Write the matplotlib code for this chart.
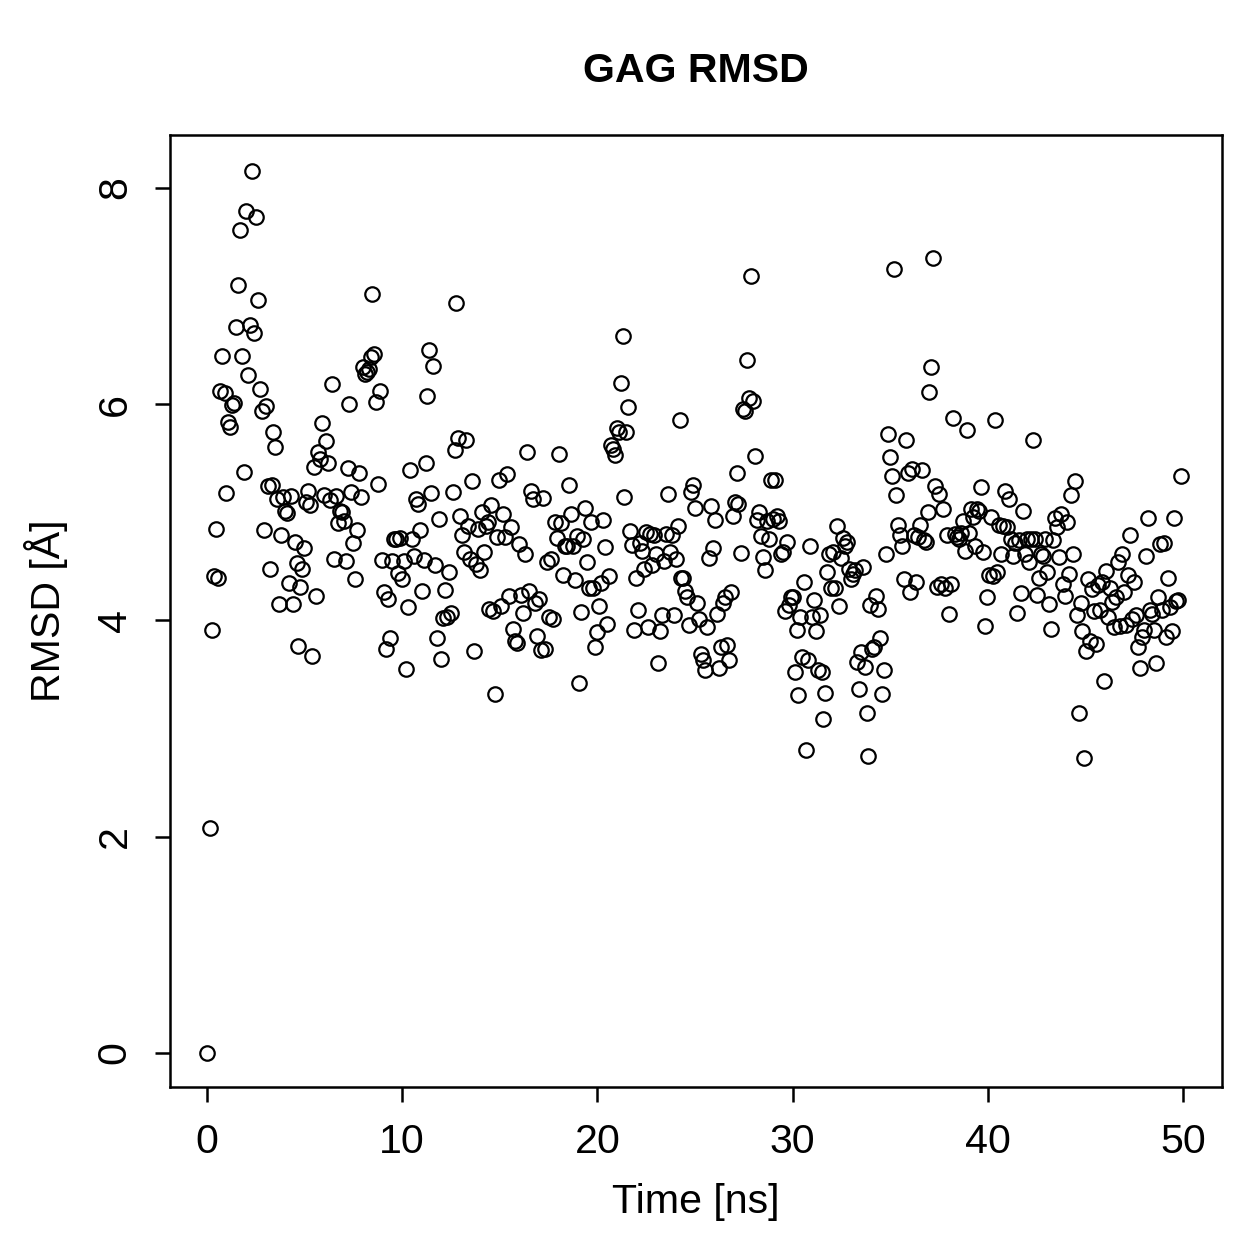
import matplotlib
matplotlib.use("Agg")
import matplotlib.pyplot as plt

# values (time in ns, RMSD in Angstrom)
time_ns = [
    0.0, 0.15, 0.25, 0.35, 0.45, 0.55, 0.65, 0.75, 0.9, 0.97,
    1.07, 1.17, 1.28, 1.38, 1.48, 1.59, 1.69, 1.79, 1.9, 2.0,
    2.1, 2.2, 2.3, 2.4, 2.5, 2.6, 2.7, 2.82, 2.92, 3.02,
    3.12, 3.23, 3.33, 3.38, 3.48, 3.59, 3.69, 3.79, 3.89, 4.0,
    4.1, 4.2, 4.3, 4.41, 4.5, 4.61, 4.66, 4.76, 4.87, 4.97,
    5.07, 5.17, 5.28, 5.38, 5.48, 5.58, 5.69, 5.79, 5.89, 5.99,
    6.1, 6.2, 6.3, 6.4, 6.5, 6.61, 6.71, 6.81, 6.92, 7.02,
    7.12, 7.22, 7.27, 7.38, 7.48, 7.58, 7.68, 7.79, 7.89, 7.99,
    8.09, 8.2, 8.3, 8.4, 8.45, 8.56, 8.66, 8.76, 8.86, 8.97,
    9.07, 9.17, 9.27, 9.38, 9.48, 9.58, 9.68, 9.78, 9.89, 9.99,
    10.09, 10.2, 10.3, 10.4, 10.5, 10.6, 10.71, 10.81, 10.91, 11.01,
    11.12, 11.22, 11.27, 11.37, 11.48, 11.58, 11.68, 11.78, 11.89, 11.99,
    12.09, 12.19, 12.3, 12.4, 12.5, 12.6, 12.7, 12.76, 12.86, 12.96,
    13.06, 13.17, 13.27, 13.37, 13.47, 13.58, 13.68, 13.78, 13.88, 13.99,
    14.09, 14.19, 14.29, 14.4, 14.45, 14.55, 14.65, 14.75, 14.86, 14.96,
    15.06, 15.16, 15.27, 15.37, 15.47, 15.57, 15.68, 15.78, 15.88, 15.98,
    16.09, 16.19, 16.29, 16.39, 16.5, 16.6, 16.7, 16.8, 16.91, 17.01,
    17.11, 17.21, 17.32, 17.42, 17.52, 17.62, 17.73, 17.83, 17.93, 18.03,
    18.14, 18.24, 18.34, 18.44, 18.55, 18.65, 18.75, 18.85, 18.95, 19.06,
    19.16, 19.26, 19.36, 19.47, 19.57, 19.67, 19.77, 19.88, 19.98, 20.08,
    20.18, 20.29, 20.39, 20.49, 20.59, 20.7, 20.8, 20.9, 21.0, 21.11,
    21.21, 21.31, 21.36, 21.47, 21.57, 21.67, 21.77, 21.88, 21.98, 22.08,
    22.18, 22.28, 22.39, 22.49, 22.59, 22.7, 22.8, 22.9, 23.0, 23.1,
    23.21, 23.31, 23.41, 23.51, 23.62, 23.72, 23.82, 23.92, 24.03, 24.13,
    24.23, 24.28, 24.39, 24.49, 24.59, 24.69, 24.8, 24.9, 25.0, 25.1,
    25.2, 25.31, 25.41, 25.51, 25.61, 25.72, 25.82, 25.92, 26.02, 26.13,
    26.23, 26.33, 26.43, 26.54, 26.64, 26.74, 26.84, 26.95, 27.05, 27.15,
    27.2, 27.36, 27.46, 27.56, 27.66, 27.77, 27.87, 27.97, 28.07, 28.18,
    28.28, 28.38, 28.48, 28.59, 28.69, 28.79, 28.89, 29.0, 29.1, 29.2,
    29.3, 29.41, 29.51, 29.61, 29.71, 29.82, 29.92, 30.02, 30.12, 30.23,
    30.28, 30.38, 30.48, 30.58, 30.69, 30.79, 30.89, 30.99, 31.1, 31.2,
    31.3, 31.4, 31.51, 31.56, 31.66, 31.76, 31.86, 31.97, 32.07, 32.17,
    32.27, 32.38, 32.48, 32.58, 32.68, 32.79, 32.89, 32.99, 33.09, 33.2,
    33.3, 33.4, 33.5, 33.61, 33.71, 33.81, 33.86, 33.97, 34.07, 34.17,
    34.27, 34.37, 34.48, 34.58, 34.68, 34.78, 34.89, 34.99, 35.09, 35.19,
    35.3, 35.4, 35.5, 35.6, 35.71, 35.81, 35.91, 36.01, 36.12, 36.22,
    36.32, 36.42, 36.53, 36.63, 36.73, 36.83, 36.94, 36.99, 37.09, 37.19,
    37.3, 37.4, 37.5, 37.6, 37.7, 37.81, 37.91, 38.01, 38.11, 38.22,
    38.32, 38.42, 38.52, 38.63, 38.73, 38.83, 38.93, 39.04, 39.14, 39.24,
    39.34, 39.45, 39.55, 39.65, 39.75, 39.86, 39.96, 40.06, 40.16, 40.27,
    40.37, 40.47, 40.57, 40.68, 40.78, 40.88, 40.98, 41.09, 41.19, 41.29,
    41.39, 41.5, 41.6, 41.7, 41.8, 41.91, 42.01, 42.11, 42.21, 42.32,
    42.42, 42.52, 42.62, 42.73, 42.83, 42.93, 43.03, 43.14, 43.24, 43.34,
    43.44, 43.55, 43.65, 43.75, 43.85, 43.96, 44.06, 44.16, 44.26, 44.37,
    44.47, 44.57, 44.67, 44.78, 44.83, 44.93, 45.03, 45.13, 45.24, 45.34,
    45.44, 45.54, 45.65, 45.75, 45.85, 45.95, 46.06, 46.16, 46.26, 46.36,
    46.47, 46.57, 46.67, 46.77, 46.88, 46.98, 47.08, 47.18, 47.29, 47.39,
    47.49, 47.59, 47.7, 47.8, 47.9, 48.0, 48.11, 48.21, 48.31, 48.41,
    48.52, 48.62, 48.72, 48.82, 48.93, 49.03, 49.13, 49.24, 49.34, 49.44,
    49.54, 49.65, 49.75, 49.9,
]

rmsd = [
    0.0, 2.08, 3.91, 4.41, 4.85, 4.39, 6.12, 6.45, 6.1, 5.18,
    5.84, 5.79, 5.99, 6.01, 6.71, 7.1, 7.61, 6.45, 5.37, 7.79,
    6.27, 6.73, 8.16, 6.66, 7.73, 6.96, 6.14, 5.94, 4.84, 5.98,
    5.24, 4.48, 5.25, 5.74, 5.6, 5.12, 4.15, 4.79, 5.14, 5.01,
    4.99, 4.35, 5.15, 4.15, 4.73, 4.53, 3.76, 4.31, 4.48, 4.67,
    5.1, 5.2, 5.07, 3.67, 5.42, 4.23, 5.56, 5.49, 5.83, 5.16,
    5.66, 5.46, 5.11, 6.19, 4.57, 5.15, 4.9, 5.01, 5.0, 4.92,
    4.55, 5.41, 6.0, 5.19, 4.72, 4.38, 4.84, 5.36, 5.14, 6.34,
    6.28, 6.3, 6.33, 6.44, 7.02, 6.46, 6.02, 5.26, 6.12, 4.56,
    4.26, 3.74, 4.2, 3.84, 4.55, 4.75, 4.75, 4.44, 4.76, 4.38,
    4.55, 3.55, 4.12, 5.39, 4.75, 4.6, 5.12, 5.08, 4.84, 4.27,
    4.56, 5.46, 6.08, 6.5, 5.18, 6.35, 4.51, 3.84, 4.94, 3.64,
    4.02, 4.28, 4.03, 4.45, 4.07, 5.19, 5.58, 6.94, 5.69, 4.97,
    4.79, 4.63, 5.67, 4.87, 4.57, 5.29, 3.72, 4.52, 4.85, 4.47,
    5.0, 4.63, 4.87, 4.91, 4.11, 5.07, 4.09, 3.32, 4.77, 5.3,
    4.13, 4.98, 4.77, 5.35, 4.23, 4.86, 3.92, 3.81, 3.79, 4.71,
    4.24, 4.07, 4.61, 5.56, 4.27, 5.2, 5.12, 4.16, 3.86, 4.2,
    3.73, 5.13, 3.74, 4.54, 4.03, 4.57, 4.01, 4.91, 4.76, 5.54,
    4.9, 4.42, 4.69, 4.69, 5.25, 4.98, 4.69, 4.37, 4.78, 3.42,
    4.08, 4.75, 5.04, 4.54, 4.3, 4.91, 4.3, 3.75, 3.89, 4.13,
    4.35, 4.93, 4.68, 3.97, 4.41, 5.62, 5.59, 5.53, 5.78, 5.74,
    6.2, 6.63, 5.14, 5.74, 5.97, 4.83, 4.7, 3.91, 4.39, 4.1,
    4.72, 4.64, 4.48, 4.82, 3.94, 4.8, 4.51, 4.79, 4.61, 3.61,
    3.9, 4.05, 4.55, 4.8, 5.17, 4.63, 4.79, 4.05, 4.57, 4.87,
    5.85, 4.39, 4.39, 4.27, 4.22, 3.96, 5.19, 5.25, 5.04, 4.16,
    4.01, 3.69, 3.63, 3.54, 3.94, 4.58, 5.06, 4.67, 4.93, 4.06,
    3.56, 3.75, 4.16, 4.22, 3.77, 3.63, 4.26, 4.97, 5.1, 5.36,
    5.08, 4.62, 5.96, 5.94, 6.41, 6.06, 7.19, 6.03, 5.52, 4.93,
    5.0, 4.78, 4.59, 4.47, 4.92, 4.75, 5.3, 4.94, 5.3, 4.97,
    4.92, 4.61, 4.63, 4.09, 4.73, 4.14, 4.22, 4.22, 3.52, 3.91,
    3.31, 4.03, 3.66, 4.36, 2.8, 3.63, 4.69, 4.03, 4.19, 3.9,
    3.54, 4.05, 3.52, 3.09, 3.33, 4.45, 4.61, 4.3, 4.63, 4.3,
    4.87, 4.13, 4.58, 4.76, 4.69, 4.73, 4.48, 4.38, 4.43, 4.47,
    3.62, 3.37, 3.71, 4.49, 3.57, 3.14, 2.75, 4.14, 3.74, 3.75,
    4.23, 4.11, 3.84, 3.32, 3.54, 4.61, 5.72, 5.51, 5.34, 7.25,
    5.16, 4.88, 4.79, 4.69, 4.38, 5.67, 5.36, 4.26, 5.4, 4.79,
    4.36, 4.77, 4.88, 5.39, 4.74, 4.73, 5.0, 6.11, 6.34, 7.35,
    5.24, 4.31, 5.17, 4.34, 5.03, 4.3, 4.79, 4.06, 4.34, 5.87,
    4.8, 4.77, 4.75, 4.81, 4.92, 4.64, 5.76, 4.81, 5.03, 4.96,
    4.69, 5.03, 5.01, 5.23, 4.63, 3.95, 4.22, 4.42, 4.96, 4.41,
    5.85, 4.45, 4.88, 4.61, 4.87, 5.2, 4.86, 5.12, 4.75, 4.6,
    4.72, 4.07, 4.74, 4.25, 5.01, 4.61, 4.75, 4.54, 4.75, 5.67,
    4.75, 4.24, 4.39, 4.61, 4.6, 4.75, 4.45, 4.15, 3.92, 4.74,
    4.95, 4.86, 4.59, 4.98, 4.34, 4.23, 4.91, 4.43, 5.16, 4.61,
    5.29, 4.05, 3.14, 4.16, 3.9, 2.73, 3.72, 4.38, 3.81, 4.29,
    4.09, 3.78, 4.33, 4.1, 4.36, 3.44, 4.46, 4.03, 4.3, 4.17,
    3.94, 4.22, 4.54, 3.95, 4.61, 4.26, 3.96, 4.42, 4.79, 4.01,
    4.36, 4.05, 3.75, 3.56, 3.85, 3.91, 4.6, 4.95, 4.1, 4.06,
    3.91, 3.61, 4.22, 4.71, 4.1, 4.72, 3.85, 4.39, 4.12, 3.9,
    4.95, 4.18, 4.19, 5.34,
]

plt.rcParams["font.family"] = ["Liberation Sans", "DejaVu Sans"]

fig = plt.figure(figsize=(6.295, 6.295), dpi=200)
ax = fig.add_axes([0.135, 0.1366, 0.8356, 0.7562])

ax.plot(time_ns, rmsd, linestyle="none", marker="o", markersize=5.2,
        markerfacecolor="none", markeredgecolor="black", markeredgewidth=0.8)

ax.set_xlim(-1.9, 52)
ax.set_ylim(-0.315, 8.49)
ax.set_xticks([0, 10, 20, 30, 40, 50])
ax.set_yticks([0, 2, 4, 6, 8])
ax.tick_params(direction="out", length=5.5, width=0.9, labelsize=14.8, pad=7.5)
for lab in ax.get_yticklabels():
    lab.set_rotation(90)
    lab.set_va("center")
for sp in ax.spines.values():
    sp.set_linewidth(0.9)

ax.set_xlabel("Time [ns]", fontsize=14.8, labelpad=8)
ax.set_ylabel("RMSD [Å]", fontsize=14.8, labelpad=10)
ax.set_title("GAG RMSD", fontsize=14.8, fontweight="bold", pad=19)

fig.savefig("out.png", dpi=200)
